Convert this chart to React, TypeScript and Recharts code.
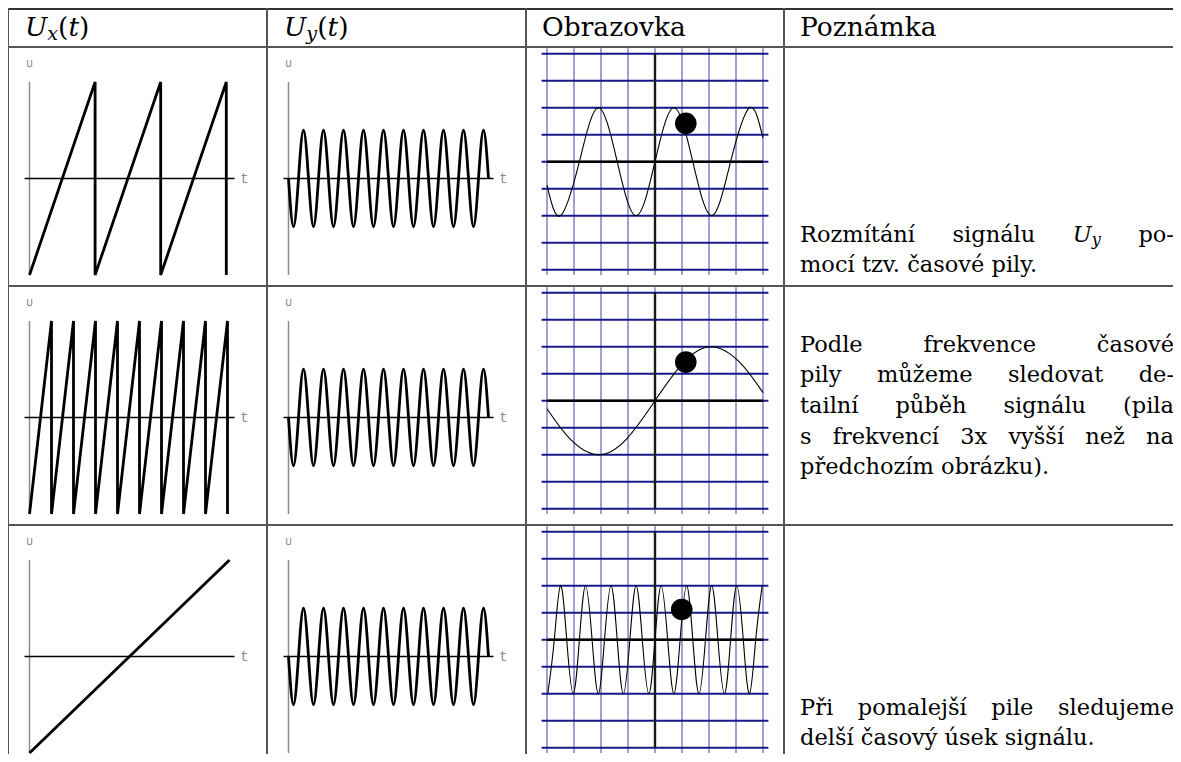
import React from 'react';
import { LineChart, Line, XAxis, YAxis, ReferenceLine, ReferenceDot } from 'recharts';

// U_y(t): ten periods of the measured signal (zero, trough, zero, peak ...)
const UY_T = [
	0, 0.025, 0.05, 0.075, 0.1, 0.125, 0.15, 0.175, 0.2, 0.225, 0.25, 0.275, 0.3, 0.325, 0.35, 0.375,
	0.4, 0.425, 0.45, 0.475, 0.5, 0.525, 0.55, 0.575, 0.6, 0.625, 0.65, 0.675, 0.7, 0.725, 0.75, 0.775,
	0.8, 0.825, 0.85, 0.875, 0.9, 0.925, 0.95, 0.975, 1,
];
const UY_U = [
	0, -0.5, 0, 0.5, 0, -0.5, 0, 0.5, 0, -0.5, 0, 0.5, 0, -0.5, 0, 0.5,
	0, -0.5, 0, 0.5, 0, -0.5, 0, 0.5, 0, -0.5, 0, 0.5, 0, -0.5, 0, 0.5,
	0, -0.5, 0, 0.5, 0, -0.5, 0, 0.5, 0,
];

// U_x(t): sweep saw for each row
const SAW1_T = [0, 0.328, 0.328, 0.656, 0.656, 0.984, 0.984];
const SAW1_U = [-1, 1, -1, 1, -1, 1, -1];
const SAW2_T = [0, 0.11, 0.11, 0.22, 0.22, 0.33, 0.33, 0.44, 0.44, 0.55, 0.55, 0.66, 0.66, 0.77, 0.77, 0.88, 0.88, 0.99, 0.99];
const SAW2_U = [-1, 1, -1, 1, -1, 1, -1, 1, -1, 1, -1, 1, -1, 1, -1, 1, -1, 1, -1];
const SAW3_T = [0, 1];
const SAW3_U = [-1, 1];

// screen traces, in grid divisions
const SCREEN1_X = [-4, -3.5, -2.8, -2.1, -1.4, -0.7, 0, 0.7, 1.4, 2.1, 2.8, 3.5, 4];
const SCREEN1_Y = [-0.87, -2, 0, 2, 0, -2, 0, 2, 0, -2, 0, 2, 0.87];
const SCREEN2_X = [-4, -3.15, -2.1, -1.05, 0, 1.05, 2.1, 3.15, 4];
const SCREEN2_Y = [-0.3, -1.41, -2, -1.41, 0, 1.41, 2, 1.41, 0.3];
const SCREEN3_X = [
	-3.97, -3.73, -3.5, -3.27, -3.03, -2.8, -2.57, -2.33, -2.1, -1.87, -1.63, -1.4, -1.17, -0.93, -0.7, -0.47, -0.23,
	0, 0.23, 0.47, 0.7, 0.93, 1.17, 1.4, 1.63, 1.87, 2.1, 2.33, 2.57, 2.8, 3.03, 3.27, 3.5, 3.73, 3.97,
];
const SCREEN3_Y = [
	-2, 0, 2, 0, -2, 0, 2, 0, -2, 0, 2, 0, -2, 0, 2, 0, -2,
	0, 2, 0, -2, 0, 2, 0, -2, 0, 2, 0, -2, 0, 2, 0, -2, 0, 2,
];

// beam spot on each screen
const SPOT_X = [1.14, 1.14, 0.99];
const SPOT_Y = [1.42, 1.43, 1.12];

const GRID = [-4, -3, -2, -1, 0, 1, 2, 3, 4];

const toPoints = (xs: number[], ys: number[]) => xs.map((x, i) => ({ x, y: ys[i] }));

const COL_X = [8, 267, 526, 784];
const ROW_Y = [47, 286, 525];

const SERIF = '"DejaVu Serif", "Liberation Serif", serif';
const labelStyle = { fill: '#8a8a8a', fontFamily: '"Liberation Mono", "Courier New", "DejaVu Sans Mono", monospace' };

const SignalPlot = ({ xs, ys, curve, left, top }: { xs: number[]; ys: number[]; curve: 'linear' | 'natural'; left: number; top: number }) => (
	<div style={{ position: 'absolute', left, top }}>
		<LineChart width={259} height={239} data={toPoints(xs, ys)} margin={{ top: 35, right: 37.5, bottom: 11, left: 21.5 }}>
			<XAxis type="number" dataKey="x" domain={[0, 1]} hide />
			<YAxis type="number" domain={[-1, 1]} hide />
			<ReferenceLine segment={[{ x: 0, y: -1 }, { x: 0, y: 1 }]} stroke="#8c8c8c" strokeWidth={1.5} ifOverflow="visible" />
			<ReferenceLine segment={[{ x: -0.025, y: 0 }, { x: 1.025, y: 0 }]} stroke="#000" strokeWidth={1.5} ifOverflow="visible" />
			<ReferenceDot x={0} y={1.2} r={0} ifOverflow="visible" label={{ value: 'U', position: 'center', fontSize: 11, ...labelStyle }} />
			<ReferenceDot x={1.075} y={0} r={0} ifOverflow="visible" label={{ value: 't', position: 'center', fontSize: 14, ...labelStyle }} />
			<Line dataKey="y" type={curve} stroke="#000" strokeWidth={2.8} dot={false} activeDot={false} isAnimationActive={false} />
		</LineChart>
	</div>
);

const ScreenPlot = ({ xs, ys, spot, top }: { xs: number[]; ys: number[]; spot: number; top: number }) => (
	<div style={{ position: 'absolute', left: COL_X[2], top }}>
		<LineChart width={258} height={239} data={toPoints(xs, ys)} margin={{ top: 6.7, right: 21, bottom: 16.3, left: 21 }}>
			<XAxis type="number" dataKey="x" domain={[-4, 4]} hide />
			<YAxis type="number" domain={[-4, 4]} hide />
			{GRID.map((g) => (
				<ReferenceLine key={`v${g}`} segment={[{ x: g, y: -4.2 }, { x: g, y: 4.2 }]} stroke="#a0a0d4" strokeWidth={2} ifOverflow="visible" />
			))}
			{GRID.map((g) => (
				<ReferenceLine key={`h${g}`} segment={[{ x: -4.2, y: g }, { x: 4.2, y: g }]} stroke="#18188a" strokeWidth={2} ifOverflow="visible" />
			))}
			<ReferenceLine segment={[{ x: 0, y: -4 }, { x: 0, y: 4 }]} stroke="#1a1a1a" strokeWidth={2.4} ifOverflow="visible" />
			<ReferenceLine segment={[{ x: -4, y: 0 }, { x: 4, y: 0 }]} stroke="#000" strokeWidth={2.6} ifOverflow="visible" />
			<Line dataKey="y" type="natural" stroke="#000" strokeWidth={1.1} dot={false} activeDot={false} isAnimationActive={false} />
			<ReferenceDot x={SPOT_X[spot]} y={SPOT_Y[spot]} r={10.8} fill="#000" stroke="none" ifOverflow="visible" />
		</LineChart>
	</div>
);

// DejaVu Serif vertical metrics
const ASC = 0.928;
const DESC = 0.236;

const LINE_H = 30.8;
const BODY_FS = 22.5;
const BODY_SHIFT = (LINE_H - (ASC + DESC) * BODY_FS) / 2 + ASC * BODY_FS;

const Sub = ({ children }: { children: React.ReactNode }) => (
	<span style={{ fontSize: '0.72em', fontStyle: 'italic', position: 'relative', top: '0.22em' }}>{children}</span>
);

const TextLine = ({ baseline, words, justify }: { baseline: number; words: React.ReactNode[]; justify?: boolean }) => (
	<div
		style={{
			position: 'absolute',
			left: 800,
			top: baseline - BODY_SHIFT,
			width: 374,
			height: LINE_H,
			lineHeight: `${LINE_H}px`,
			fontSize: BODY_FS,
			display: 'flex',
			justifyContent: justify ? 'space-between' : 'flex-start',
			gap: justify ? 0 : '0.32em',
			whiteSpace: 'nowrap',
		}}
	>
		{words.map((w, i) => (
			<span key={i}>{w}</span>
		))}
	</div>
);

const HEAD_FS = 26.5;
const HEAD_L = 36;
const HEAD_SHIFT = (HEAD_L - (ASC + DESC) * HEAD_FS) / 2 + ASC * HEAD_FS;

const Head = ({ left, children }: { left: number; children: React.ReactNode }) => (
	<div style={{ position: 'absolute', left, top: 36 - HEAD_SHIFT, fontSize: HEAD_FS, lineHeight: `${HEAD_L}px`, whiteSpace: 'nowrap' }}>
		{children}
	</div>
);

const RULE = '#555';

export default function App() {
	const uy = (
		<>
			<i>U</i>
			<Sub>y</Sub>
		</>
	);
	return (
		<div
			style={{
				position: 'relative',
				margin: -8,
				width: 1181,
				height: 762,
				overflow: 'hidden',
				background: '#fff',
				fontFamily: SERIF,
				color: '#000',
			}}
		>
			<style>{'html,body{overflow:hidden}'}</style>

			{/* table rules */}
			<div style={{ position: 'absolute', left: 7.5, top: 8, width: 1180, height: 1.6, background: '#333' }} />
			{ROW_Y.map((y) => (
				<div key={y} style={{ position: 'absolute', left: 7.5, top: y - 0.8, width: 1180, height: 1.6, background: RULE }} />
			))}
			{COL_X.map((x) => (
				<div key={x} style={{ position: 'absolute', left: x - 0.8, top: 8, width: 1.6, height: 760, background: RULE }} />
			))}

			{/* header */}
			<Head left={25}>
				<i>U</i>
				<Sub>x</Sub>(<i>t</i>)
			</Head>
			<Head left={284}>
				<i>U</i>
				<Sub>y</Sub>(<i>t</i>)
			</Head>
			<Head left={542}>Obrazovka</Head>
			<Head left={800}>Poznámka</Head>

			{/* row 1 */}
			<SignalPlot xs={SAW1_T} ys={SAW1_U} curve="linear" left={COL_X[0]} top={ROW_Y[0]} />
			<SignalPlot xs={UY_T} ys={UY_U} curve="natural" left={COL_X[1]} top={ROW_Y[0]} />
			<ScreenPlot xs={SCREEN1_X} ys={SCREEN1_Y} spot={0} top={ROW_Y[0]} />
			<TextLine baseline={241.7} justify words={['Rozmítání', 'signálu', uy, 'po-']} />
			<TextLine baseline={272.5} words={['mocí', 'tzv.', 'časové', 'pily.']} />

			{/* row 2 */}
			<SignalPlot xs={SAW2_T} ys={SAW2_U} curve="linear" left={COL_X[0]} top={ROW_Y[1]} />
			<SignalPlot xs={UY_T} ys={UY_U} curve="natural" left={COL_X[1]} top={ROW_Y[1]} />
			<ScreenPlot xs={SCREEN2_X} ys={SCREEN2_Y} spot={1} top={ROW_Y[1]} />
			<TextLine baseline={351.7} justify words={['Podle', 'frekvence', 'časové']} />
			<TextLine baseline={382.4} justify words={['pily', 'můžeme', 'sledovat', 'de-']} />
			<TextLine baseline={413.1} justify words={['tailní', 'půběh', 'signálu', '(pila']} />
			<TextLine baseline={443.8} justify words={['s', 'frekvencí', '3x', 'vyšší', 'než', 'na']} />
			<TextLine baseline={474.5} words={['předchozím', 'obrázku).']} />

			{/* row 3 */}
			<SignalPlot xs={SAW3_T} ys={SAW3_U} curve="linear" left={COL_X[0]} top={ROW_Y[2]} />
			<SignalPlot xs={UY_T} ys={UY_U} curve="natural" left={COL_X[1]} top={ROW_Y[2]} />
			<ScreenPlot xs={SCREEN3_X} ys={SCREEN3_Y} spot={2} top={ROW_Y[2]} />
			<TextLine baseline={714.7} justify words={['Při', 'pomalejší', 'pile', 'sledujeme']} />
			<TextLine baseline={745.5} words={['delší', 'časový', 'úsek', 'signálu.']} />
		</div>
	);
}
